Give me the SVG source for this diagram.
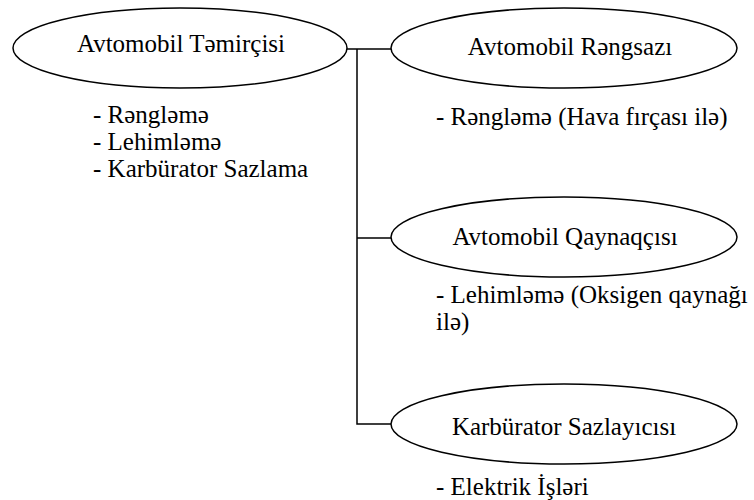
<svg xmlns="http://www.w3.org/2000/svg" width="754" height="500" viewBox="0 0 754 500">
<style>
.node ellipse{fill:#fff;stroke:#000;stroke-width:1.5}
.c{text-anchor:middle}
.conn{fill:none;stroke:#000;stroke-width:1.5}
</style>
<rect width="754" height="500" fill="#fff"/>
<g id="connectors">
<path class="conn" d="M347,49 H391 M357,49 V424 H391 M357,238 H391"/>
</g>
<g font-family="Liberation Serif, Times New Roman, Times, DejaVu Serif, serif" font-size="25" fill="#000">
<g id="node-temirci" class="node">
<ellipse cx="180" cy="48" rx="167" ry="40"/>
<text class="c" x="181" y="52">Avtomobil Təmirçisi</text>
<text x="93" y="123">- Rəngləmə</text>
<text x="93" y="150">- Lehimləmə</text>
<text x="93" y="177">- Karbürator Sazlama</text>
</g>
<g id="node-rengsaz" class="node">
<ellipse cx="564" cy="48" rx="173" ry="40"/>
<text class="c" x="570" y="55">Avtomobil Rəngsazı</text>
<text x="436" y="125">- Rəngləmə (Hava fırçası ilə)</text>
</g>
<g id="node-qaynaqci" class="node">
<ellipse cx="564" cy="237" rx="173" ry="40"/>
<text class="c" x="565" y="245">Avtomobil Qaynaqçısı</text>
<text x="436" y="303">- Lehimləmə (Oksigen qaynağı</text>
<text x="436" y="330">ilə)</text>
</g>
<g id="node-karburator" class="node">
<ellipse cx="564" cy="424" rx="173" ry="40"/>
<text class="c" x="564" y="435">Karbürator Sazlayıcısı</text>
<text x="436" y="495">- Elektrik İşləri</text>
</g>
</g>
</svg>
